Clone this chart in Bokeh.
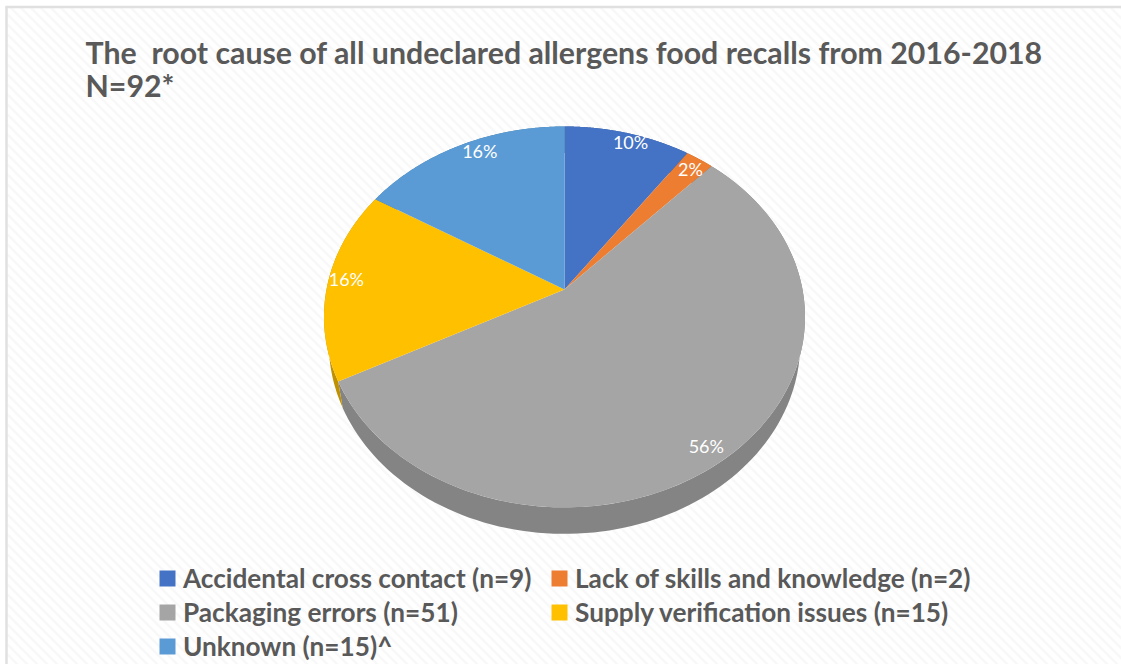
import numpy as np
from bokeh.core.properties import value
from bokeh.embed import file_html
from bokeh.models import ColumnDataSource, Legend, LegendItem
from bokeh.plotting import figure
from bokeh.resources import INLINE

# ---- data ----
categories = ["Accidental cross contact (n=9)", "Lack of skills and knowledge (n=2)",
              "Packaging errors (n=51)", "Supply verification issues (n=15)", "Unknown (n=15)^"]
counts = [9, 2, 51, 15, 15]
percent_labels = ["10%", "2%", "56%", "16%", "16%"]
title_lines = ["The \u00a0root cause of all undeclared allergens food recalls from 2016-2018", "N=92*"]

# ---- styles ----
top_colors = ["#4472c4", "#ed7d31", "#a5a5a5", "#ffc000", "#5b9bd5"]
side_colors = ["#335693", "#b25e25", "#848484", "#bf9000", "#447ba0"]
label_fraction = [0.9425, 0.918, 0.92, 0.925, 0.913]
label_turn_deg = [1.8, 0.3, 1.9, 1.3, 3.5]

W, H = 1121, 664
APEX_X, APEX_Y = 564, 289      # pie apex inside the figure, in pixels
TILT = 0.144                   # perspective foreshortening
RX, RY = 238.0, 186.5
DEPTH, SIDE_SCALE = 26.5, 0.98
LEFT, TOP, RIGHT, BOTTOM = -APEX_X, APEX_Y, W - APEX_X, APEX_Y - H

p = figure(width=W, height=H, output_backend="svg", toolbar_location=None,
           x_range=(LEFT, RIGHT), y_range=(BOTTOM, TOP),
           min_border=0, outline_line_color=None, background_fill_color="#ffffff",
           border_fill_color="#ffffff")
p.axis.visible = False
p.grid.visible = False


def rim(theta, r=1.0):
    """Project a point of the round pie (clockwise from 12 o'clock) to the tilted view."""
    a, b = r * np.sin(theta), r * np.cos(theta)
    w = 1 + TILT * b
    return RX * a / w, RY * b / w


# faint diagonal stripes of the background, inside the frame line
fl, ft = LEFT + 7, TOP - 7
sx, sy = [], []
for o in np.arange(fl - (ft - BOTTOM), RIGHT, 10.0):
    x0 = max(o, fl)
    y0 = ft - (x0 - o)
    sx.append([x0, x0 + 1200])
    sy.append([y0, y0 - 1200])
p.multi_line(sx, sy, line_color="#f8f8f8", line_width=2.5)

# frame of the chart
p.line([fl - 1, fl - 1], [BOTTOM, ft + 1], line_color="#e0e0e0", line_width=2.5)
p.line([fl - 2, RIGHT], [ft + 0.5, ft + 0.5], line_color="#e0e0e0", line_width=2.5)

edges = np.cumsum([0] + counts) / sum(counts) * 2 * np.pi

# side wall first, so that the top face covers it
for i in range(len(counts)):
    th = np.linspace(edges[i], edges[i + 1], 120)
    x, y = rim(th)
    p.patch(np.r_[x, x[::-1] * SIDE_SCALE], np.r_[y, y[::-1] - DEPTH],
            fill_color=side_colors[i], line_color=None)

items = []
for i, cat in enumerate(categories):
    th = np.linspace(edges[i], edges[i + 1], 200)
    x, y = rim(th)
    r = p.patch(np.r_[0, x], np.r_[0, y], fill_color=top_colors[i], line_color=None)
    items.append(LegendItem(label=cat, renderers=[r]))

mid = (edges[:-1] + edges[1:]) / 2 + np.radians(label_turn_deg)
lx, ly = rim(mid, np.array(label_fraction))
p.text(x="x", y="y", text="t", source=ColumnDataSource(dict(x=lx, y=ly + 1, t=percent_labels)),
       text_color="#ffffff", text_font=value("Lato"), text_font_size="18px",
       text_align="center", text_baseline="middle")

p.text(x=[85 + LEFT] * 2, y=[TOP - 51, TOP - 84], text=title_lines,
       text_color="#595959", text_font=value("Lato"), text_font_size="30.3px",
       text_font_style="bold", text_align="left", text_baseline="middle")

legend = Legend(items=items, orientation="horizontal", ncols=2, location=(157, 2),
                background_fill_alpha=0, border_line_color=None,
                glyph_width=20, glyph_height=20, label_standoff=6, spacing=2,
                label_width=364,
                label_text_font="Lato", label_text_font_style="bold",
                label_text_font_size="26.2px", label_text_color="#595959",
                margin=0, padding=0)
p.add_layout(legend, "center")

open("out.html", "w").write(file_html(p, INLINE))
